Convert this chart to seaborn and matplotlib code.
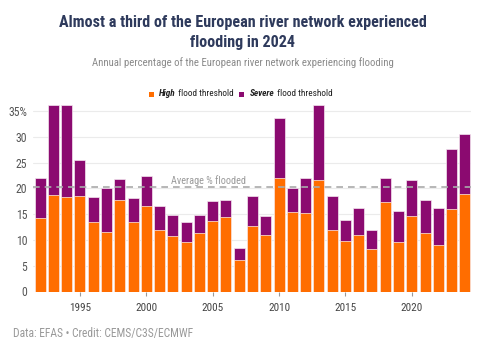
import matplotlib
matplotlib.use("Agg")
import matplotlib.pyplot as plt
from matplotlib import font_manager
from matplotlib.patches import Rectangle
import seaborn as sns
import pandas as pd

years = list(range(1992, 2025))
high = [14.2, 18.7, 18.3, 18.6, 13.5, 11.5, 17.8, 13.5, 16.5, 12.0, 10.7,
        9.7, 11.4, 13.7, 14.5, 6.2, 12.8, 11.0, 22.0, 15.4, 15.2, 21.6,
        12.0, 9.8, 10.9, 8.3, 17.4, 9.7, 14.6, 11.3, 9.1, 16.0, 18.9]
total = [22.0, 36.2, 36.2, 25.6, 18.3, 20.1, 21.9, 18.1, 22.5, 16.6, 14.9,
         13.5, 14.8, 17.5, 17.8, 8.4, 18.5, 14.7, 33.7, 20.0, 22.0, 36.2,
         18.5, 13.8, 16.2, 11.9, 22.1, 15.7, 21.7, 17.8, 16.2, 27.6, 30.5]
average = 20.35
tick_years = [1995, 2000, 2005, 2010, 2015, 2020]
y_ticks = [0, 5, 10, 15, 20, 25, 30, 35]
y_labels = ["0", "5", "10", "15", "20", "25", "30", "35%"]

ORANGE = "#ff6d00"
PURPLE = "#8b0a70"

avail = {f.name for f in font_manager.fontManager.ttflist}
def pick(*names):
    for n in names:
        if n in avail:
            return n
    return "DejaVu Sans"
FONT = pick("Roboto Condensed", "Liberation Sans Narrow", "Roboto")

sns.set_theme(style="white")
plt.rcParams["font.family"] = [FONT, "DejaVu Sans"]

df = pd.DataFrame({"year": years, "high": high, "total": total})

fig = plt.figure(figsize=(4.85, 3.6), dpi=100)
W, H = 485, 360
ax = fig.add_axes([33 / W, 1 - 291.5 / H, (471 - 33) / W, (291.5 - 105) / H])

sns.barplot(data=df, x="year", y="total", color=PURPLE, width=0.83,
            edgecolor="#f4e6f0", linewidth=0.5, saturation=1, ax=ax, zorder=2)
sns.barplot(data=df, x="year", y="high", color=ORANGE, width=0.83,
            edgecolor="#fff0e6", linewidth=0.5, saturation=1, ax=ax, zorder=3)

ax.set_xlim(-0.54, len(years) - 0.54)
ax.set_ylim(0, 36.2)
ax.set_yticks(y_ticks)
ax.set_yticklabels(y_labels)
ax.set_xticks([years.index(y) for y in tick_years])
ax.set_xticklabels([str(y) for y in tick_years])
ax.set_xlabel("")
ax.set_ylabel("")
for s in ax.spines.values():
    s.set_visible(False)
ax.grid(axis="y", color="#ebebeb", linewidth=0.8, zorder=0)
ax.set_axisbelow(True)
ax.tick_params(axis="y", length=0, pad=4, labelsize=8.5, labelcolor="#555555")
ax.tick_params(axis="x", length=3, width=0.8, color="#999999", pad=5,
               labelsize=8, labelcolor="#444444", bottom=True)

ax.axhline(average, color="#aaaaaa", linestyle=(0, (4, 3)), linewidth=1.2,
           zorder=5)
ax.text(12.65, 21.5, "Average % flooded", ha="center", va="center",
        fontsize=7.4, color="#9a9a9a", zorder=6)

# Titles
fig.text(0.5, 1 - 22 / H, "Almost a third of the European river network experienced",
         ha="center", va="center", fontsize=11.6, fontweight="bold", color="#2e3a5c")
fig.text(0.5, 1 - 43 / H, "flooding in 2024", ha="center", va="center",
         fontsize=11.6, fontweight="bold", color="#2e3a5c")
fig.text(0.5, 1 - 63 / H,
         "Annual percentage of the European river network experiencing flooding",
         ha="center", va="center", fontsize=7.75, color="#8a8a8a")
fig.text(13 / W, 1 - 333 / H, "Data: EFAS \u2022 Credit: CEMS/C3S/ECMWF",
         ha="left", va="center", fontsize=8.3, color="#999999")

# Legend built from pieces
fig.canvas.draw()
r = fig.canvas.get_renderer()
ly = 1 - 94 / H
LFS = 6.7
SQ = 5
SQ_STEP = 10.5
GAP = 6
pieces = [("sq", ORANGE), ("High", "bi"), (" flood threshold", "n"), ("gap", None),
          ("sq", PURPLE), ("Severe", "bi"), (" flood threshold", "n")]
def width_of(txt, style):
    t = fig.text(0, 0, txt, fontsize=LFS, fontweight="bold" if style == "bi" else "normal",
                 fontstyle="italic" if style == "bi" else "normal")
    w = t.get_window_extent(r).width
    t.remove()
    return w
total_w = 0
items = []
for p, st in pieces:
    if p == "sq":
        items.append(("sq", st, SQ_STEP)); total_w += SQ_STEP
    elif p == "gap":
        items.append(("gap", None, GAP)); total_w += GAP
    else:
        w = width_of(p, st)
        items.append((p, st, w)); total_w += w
x = 240.5 - total_w / 2
for p, st, w in items:
    if p == "sq":
        fig.patches.append(Rectangle((x / W, ly - SQ / 2 / H), SQ / W, SQ / H,
                                     transform=fig.transFigure, facecolor=st,
                                     edgecolor="none"))
    elif p != "gap":
        fig.text(x / W, ly, p, ha="left", va="center", fontsize=LFS,
                 fontweight="bold" if st == "bi" else "normal",
                 fontstyle="italic" if st == "bi" else "normal", color="#222222")
    x += w

fig.savefig("out.png", dpi=100, facecolor="white")
